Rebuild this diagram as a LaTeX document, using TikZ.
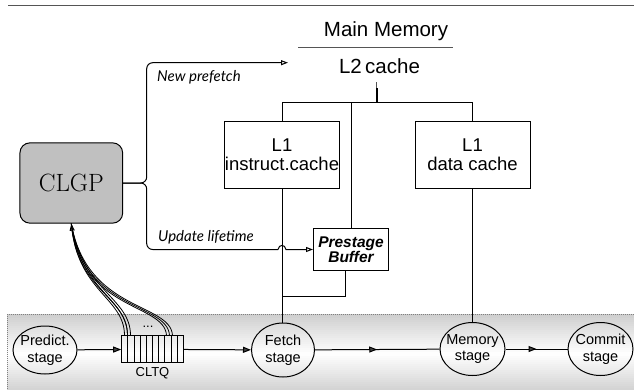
\documentclass[tikz,border=0pt]{standalone}
\usepackage{fontspec}
\setsansfont{Liberation Sans}
\newfontfamily\notefont{Lato}
\usetikzlibrary{shapes.geometric, arrows.meta, positioning, calc, decorations.markings}
\definecolor{bandGray}{HTML}{CFCFCF}
\definecolor{boxGray}{HTML}{C0C0C0}
\definecolor{lineGray}{HTML}{555555}
\definecolor{tipGray}{HTML}{444444}

\begin{document}
\begin{tikzpicture}[x=1pt, y=-1pt,
    box/.style={rectangle, draw, line width=1pt, inner sep=0pt, align=center, font=\sffamily\fontsize{18.5}{19}\selectfont},
    stage/.style={ellipse, draw, line width=1pt, inner xsep=-8pt, inner ysep=0pt, align=center, font=\sffamily\fontsize{14.5}{16.5}\selectfont},
    title/.style={inner sep=0pt, anchor=base, font=\sffamily\fontsize{20.5}{24}\selectfont},
    note/.style={inner sep=0pt, anchor=base west, font=\notefont\itshape\fontsize{15}{17}\selectfont},
    link/.style={line width=1pt},
    hollow/.style={link, -{Triangle[open, length=7pt, width=5pt]}},
    pipe/.style={link, -{Triangle[length=8pt, width=6pt, fill=tipGray]}},
    midpipe/.style={link, postaction={decorate}, decoration={markings, mark=at position 0.5 with {\arrow{Triangle[length=8pt, width=6pt, fill=tipGray]}}}}
]
    \useasboundingbox (0,0) rectangle (634,389);

    % pipeline band, grey at the edges and white in the middle
    \foreach \k in {0,...,39} {
        \pgfmathsetmacro\pct{100*abs(\k-19.5)/19.5}
        \fill[bandGray!\pct!white] (7.3,314.3+\k*2) rectangle (640,316.6+\k*2);
    }
    \draw[gray, line width=0.8pt, dash pattern=on 1pt off 1pt] (7.3,395) -- (7.3,314.3) -- (640,314.3);

    \draw[lineGray, line width=1.3pt] (8,5.7) -- (634,5.7);

    % memory hierarchy
    \node[title] (mainmem) at (386,36) {Main Memory};
    \draw[lineGray, line width=1pt] (298,47.7) -- (453,47.7);
    \node[title] (l2) at (379.5,73.3) {L2\,cache};

    \node[box, minimum width=115pt, minimum height=66.5pt] (icache) at (282,155) {L1\\instruct.cache};
    \node[box, minimum width=115pt, minimum height=66.5pt] (dcache) at (472.5,155) {L1\\ data cache};
    \node[box, font=\sffamily\bfseries\itshape\fontsize{15.5}{15.5}\selectfont, minimum width=75pt, minimum height=42.4pt] (prestage) at (351,249.5) {Prestage\\Buffer};

    \node[draw, fill=boxGray, rounded corners=10pt, line width=1pt, inner sep=0pt, minimum width=102.7pt, minimum height=80.3pt, font=\fontsize{25}{30}\selectfont] (clgp) at (71.3,183) {CLGP};

    % pipeline stages
    \node[stage, minimum width=64pt, minimum height=48pt] (predict) at (45,350) {Predict.\\stage};
    \node[draw, line width=1pt, inner sep=0pt, minimum width=61.6pt, minimum height=26.7pt] (cltq) at (152.5,349.3) {};
    \foreach \i in {1,...,9}
        \draw[line width=0.8pt] (121.7+\i*6.16,336) -- (121.7+\i*6.16,362.7);
    \node[inner sep=0pt, font=\sffamily\fontsize{13}{13}\selectfont] (dots) at (148,327) {...};
    \node[inner sep=0pt, font=\sffamily\fontsize{13}{13}\selectfont] (cltqname) at (152.5,373) {CLTQ};
    \node[stage, minimum width=63pt, minimum height=54pt] (fetch) at (283,350) {Fetch\\stage};
    \node[stage, minimum width=65pt, minimum height=53pt] (memory) at (472.5,349) {Memory\\stage};
    \node[stage, minimum width=65pt, minimum height=53pt] (commit) at (600.5,349) {Commit\\stage};

    % cache connections
    \coordinate (bus) at (376.7,102.7);
    \coordinate (l2tap) at (376.7,82);
    \coordinate (pbjoin) at (282,296.7);
    \draw[link, lineGray] (l2tap) -- (bus);
    \draw[line width=1.8pt] (bus) -- ++(0,-14.7);
    \draw[link] (icache.north) |- (bus) -| (dcache.north);
    \draw[link] (bus -| prestage.north) -- (prestage.north);
    \draw[link] (icache.south) -- (icache.south |- fetch.north);
    \draw[link] ([xshift=-6pt]prestage.south) |- (pbjoin);
    \draw[link] (dcache.south) -- (memory.north);

    % CLGP outputs
    \coordinate (brace) at (146.7,183);
    \coordinate (pfend) at (288,62.7);
    \coordinate (hopin) at (278,249.5);
    \coordinate (hopout) at (286,249.5);
    \draw[hollow, rounded corners=6pt] (clgp.east) -- (brace) -- (brace |- pfend) -- (pfend);
    \draw[link, rounded corners=6pt] (clgp.east) -- (brace) -- (brace |- hopin) -- (hopin);
    \draw[hollow] (hopin) .. controls (279,244) and (285,244) .. (hopout) -- (prestage.west);
    \node[note] (newpf) at (157,81.7) {New prefetch};
    \node[note] (update) at (158,241.7) {Update lifetime};

    % CLTQ entries back to CLGP
    \foreach \a/\b in {3.3/-3, 6.3/0, 9.3/3}
        \draw[line width=0.8pt] ([xshift=\a pt]cltq.north west) .. controls +(0,-38) and (80+\b,292) .. (clgp.south);
    \foreach \a/\b in {45.3/-3, 48.3/0, 51.3/3}
        \draw[line width=0.8pt] ([xshift=\a pt]cltq.north west) .. controls +(-2,-33) and (84+\b,312) .. (clgp.south);
    \draw[hollow, line width=0.8pt] ([xshift=6.3pt]cltq.north west) .. controls +(0,-38) and (80,292) .. (clgp.south);

    % pipeline flow
    \draw[pipe] (predict) -- (cltq);
    \draw[pipe] (cltq) -- (fetch);
    \draw[midpipe] (fetch) -- (memory);
    \draw[midpipe] (memory) -- (commit);
\end{tikzpicture}
\end{document}
